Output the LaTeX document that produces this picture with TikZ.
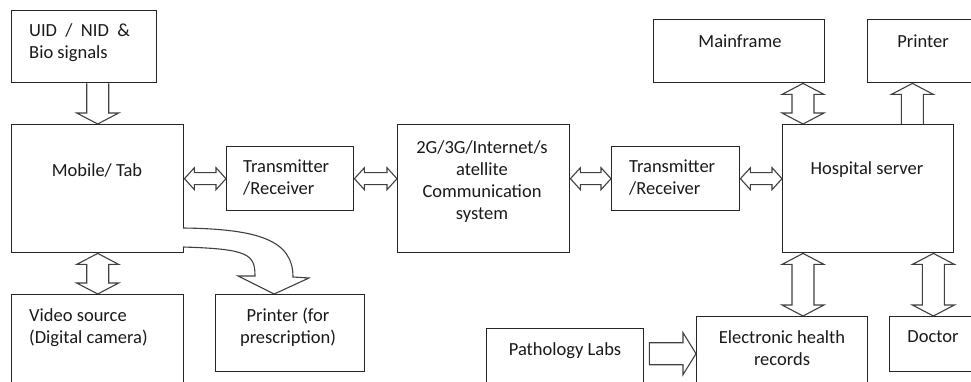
\documentclass[tikz,border=0pt]{standalone}
\usepackage{fontspec}
\setmainfont{Carlito}
\usetikzlibrary{calc}

\tikzset{
  box/.style={draw=black!85, line width=1.4pt, anchor=north west, inner sep=0pt},
  txt/.style={font=\fontsize{18.5}{22}\selectfont, text=black!90, inner sep=0pt},
  hollow/.style={draw=black!75, line width=1.1pt, fill=white, line join=miter},
}

% fat two-headed arrow, left to right
\newcommand{\hboth}[2]{%
  \draw[hollow] let \p1=#1, \p2=#2 in
    (\x1,\y1) -- (\x1+10pt,\y1+11pt) -- (\x1+10pt,\y1+6pt) -- (\x2-10pt,\y1+6pt)
    -- (\x2-10pt,\y1+11pt) -- (\x2,\y1) -- (\x2-10pt,\y1-11pt) -- (\x2-10pt,\y1-6pt)
    -- (\x1+10pt,\y1-6pt) -- (\x1+10pt,\y1-11pt) -- cycle;}
% fat two-headed arrow, top to bottom
\newcommand{\vboth}[2]{%
  \draw[hollow] let \p1=#1, \p2=#2 in
    (\x1,\y1) -- (\x1+21pt,\y1-11pt) -- (\x1+11pt,\y1-11pt) -- (\x1+11pt,\y2+11pt)
    -- (\x1+21pt,\y2+11pt) -- (\x1,\y2) -- (\x1-21pt,\y2+11pt) -- (\x1-11pt,\y2+11pt)
    -- (\x1-11pt,\y1-11pt) -- (\x1-21pt,\y1-11pt) -- cycle;}
% fat one-headed arrow, vertical (#3 = 1 down, -1 up)
\newcommand{\vone}[3]{%
  \draw[hollow] let \p1=#1, \p2=#2, \n1={(#3)*11pt} in
    (\x1-11pt,\y1) -- (\x1-11pt,\y2+\n1) -- (\x1-21pt,\y2+\n1) -- (\x1,\y2)
    -- (\x1+21pt,\y2+\n1) -- (\x1+11pt,\y2+\n1) -- (\x1+11pt,\y1);}
% fat one-headed arrow, to the right
\newcommand{\hone}[2]{%
  \draw[hollow] let \p1=#1, \p2=#2 in
    (\x1,\y1+11pt) -- (\x2-13pt,\y1+11pt) -- (\x2-13pt,\y1+21pt) -- (\x2,\y1)
    -- (\x2-13pt,\y1-21pt) -- (\x2-13pt,\y1-11pt) -- (\x1,\y1-11pt) -- cycle;}

\begin{document}
\begin{tikzpicture}[x=1pt, y=-1pt]
\useasboundingbox (0,0) rectangle (971,382);
\clip (0,0) rectangle (971,382);

% boxes
\node[box, minimum width=145pt, minimum height=72pt]  (uid) at (11,10)  {};
\node[box, minimum width=172pt, minimum height=128pt] (mob) at (11,124) {};
\node[box, minimum width=172pt, minimum height=98pt]  (vid) at (11,294) {};
\node[box, minimum width=149pt, minimum height=77pt]  (prn) at (215,294) {};
\node[box, minimum width=127pt, minimum height=64pt]  (tra) at (226,146) {};
\node[box, minimum width=172pt, minimum height=128pt] (com) at (397,124) {};
\node[box, minimum width=128pt, minimum height=64pt]  (trb) at (611,146) {};
\node[box, minimum width=171pt, minimum height=128pt] (hos) at (782,124) {};
\node[box, minimum width=171pt, minimum height=63pt]  (mfr) at (653,19)  {};
\node[box, minimum width=113pt, minimum height=63pt]  (hpr) at (867,19)  {};
\node[box, minimum width=157pt, minimum height=64pt]  (pat) at (486,328) {};
\node[box, minimum width=171pt, minimum height=74pt]  (ehr) at (696,316) {};
\node[box, minimum width=91pt, minimum height=55pt]   (doc) at (889,316) {};

% texts
\node[txt, anchor=west, align=left] (uidt) at (29,42.5) {UID\ \ /\ \ NID\ \ \&\\Bio signals};
\node[txt] (mobt) at (97,170) {Mobile/ Tab};
\node[txt, anchor=west, align=left] (vidt) at (29,327.5) {Video source\\(Digital camera)};
\node[txt, align=center] (prnt) at (288,327.5) {Printer (for\\prescription)};
\node[txt, anchor=west, align=left] (trat) at (243,178) {Transmitter\\/Receiver};
\node[txt, align=center] (comt) at (482,181.5) {2G/3G/Internet/s\\atellite\\Communication\\system};
\node[txt, anchor=west, align=left] (trbt) at (629,178) {Transmitter\\/Receiver};
\node[txt] (host) at (867,170) {Hospital server};
\node[txt] (mfrt) at (740,41) {Mainframe};
\node[txt] (hprt) at (923,41) {Printer};
\node[txt] (patt) at (565,351) {Pathology Labs};
\node[txt, align=center] (ehrt) at (782,348.5) {Electronic health\\records};
\node[txt] (doct) at (933,337) {Doctor};

% points on the hospital server
\coordinate (hosA) at ([xshift=21pt]hos.north west);
\coordinate (hosB) at ([xshift=-42pt]hos.north east);
\coordinate (hosC) at ([xshift=21pt]hos.south west);
\coordinate (hosD) at ([xshift=-21pt]hos.south east);

% arrows
\vone{(mob.north |- uid.south)}{(mob.north)}{1}
\vboth{(mob.south)}{(vid.north)}
\hboth{(mob.east |- tra.west)}{(tra.west)}
\hboth{(tra.east)}{(com.west |- tra.east)}
\hboth{(com.east |- trb.west)}{(trb.west)}
\hboth{(trb.east)}{(hos.west |- trb.east)}
\vboth{(mfr.south -| hosA)}{(hosA)}
\vone{(hosB)}{(hpr.south -| hosB)}{-1}
\vboth{(hosC)}{(ehr.north -| hosC)}
\vboth{(hosD)}{(doc.north -| hosD)}
\hone{([xshift=5pt]pat.east |- ehr.west)}{(ehr.west)}

% bent arrow to the prescription printer
\draw[hollow] (183,228) .. controls (258,229) and (293,240) .. (293,277)
  -- (309,278) -- ([xshift=-16pt]prn.north) -- (238,276) -- (255,276)
  .. controls (255,254) and (248,249) .. (183,247);
\end{tikzpicture}
\end{document}
